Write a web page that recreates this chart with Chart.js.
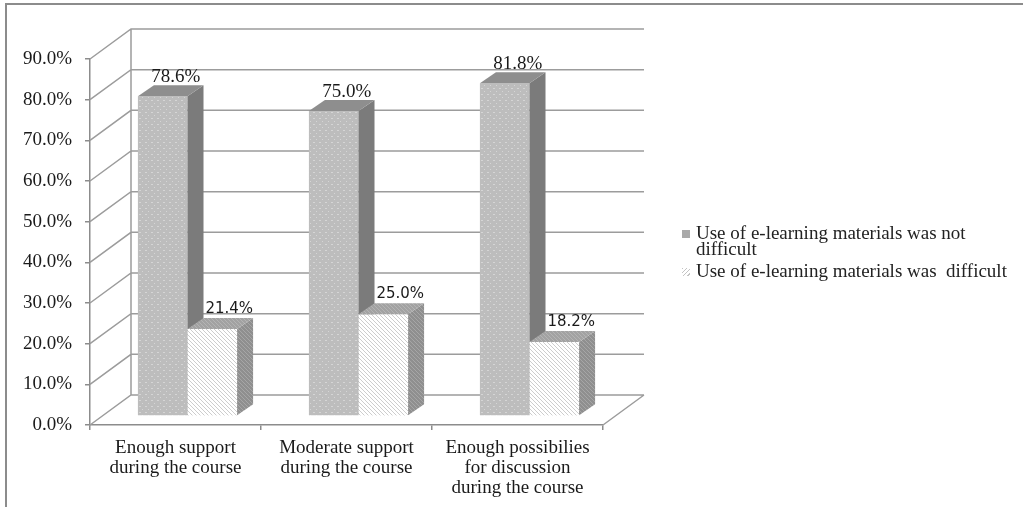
<!DOCTYPE html>
<html>
<head>
<meta charset="utf-8">
<script src="https://cdn.jsdelivr.net/npm/chart.js@4.4.0/dist/chart.umd.min.js"></script>
<style>
  body { margin: 0; background: #fff; }
  #wrap { position: relative; width: 1023px; height: 507px; overflow: hidden; }
  #frame { position: absolute; left: 5px; top: 3px; width: 1100px; height: 600px;
           border-left: 2px solid #8c8c8c; border-top: 2px solid #8c8c8c; }
  canvas { position: absolute; left: 0; top: 0; }
  #legend { position: absolute; left: 682px; top: 225px; font: 19px "Liberation Serif", serif; color: #222; }
  .item { display: flex; align-items: flex-start; line-height: 16px; margin-bottom: 6px; white-space: pre; }
  .sw { width: 8px; height: 8px; margin: 5px 6px 0 0; flex: none; }
</style>
</head>
<body>
<div id="wrap">
  <div id="frame"></div>
  <canvas id="chart" width="1023" height="507"></canvas>
  <div id="legend"></div>
</div>
<script>
const categories = [
  ["Enough support", "during the course"],
  ["Moderate support", "during the course"],
  ["Enough possibilies", "for discussion", "during the course"],
]
const seriesLabels = [
  "Use of e-learning materials was not\ndifficult",
  "Use of e-learning materials was  difficult",
]
const notDifficult = [78.6, 75.0, 81.8]
const difficult = [21.4, 25.0, 18.2]

// 3D offsets: back wall, bar plane shift, bar depth
const WALL = { x: 41, y: -30 }
const SHIFT = { x: 12, y: -9 }
const DEPTH = { x: 16, y: -11 }
const SERIF = "'Liberation Serif', 'Times New Roman', serif"

function tile(size, base, ink, draw) {
  const c = document.createElement("canvas")
  c.width = size; c.height = size
  const g = c.getContext("2d")
  g.fillStyle = base; g.fillRect(0, 0, size, size)
  g.fillStyle = ink
  draw(g)
  return g.createPattern(c, "repeat")
}
const diag = g => { for (let i = 0; i < 4; i++) g.fillRect(i, i, 1, 1) }
const dots = tile(6, "#bdbdbd", "#d5d5d5", g => { g.fillRect(1, 1, 2, 1); g.fillRect(4, 4, 1, 1) })
const hatch = tile(4, "#ffffff", "#cdcdcd", diag)
const hatchSide = tile(4, "#8f8f8f", "#a6a6a6", diag)
const hatchTop = tile(4, "#a2a2a2", "#b4b4b4", diag)

const FACES = [
  { side: "#7b7b7b", top: "#8e8e8e", font: "19px " + SERIF, dx: 13, dy: -8 },
  { side: hatchSide, top: hatchTop, font: "15px 'DejaVu Sans', sans-serif", dx: 17, dy: -9 },
]

function drawFaces(ctx, bar, face) {
  const { x, y, base, width } = bar.getProps(["x", "y", "base", "width"], true)
  const l = x - width / 2, r = x + width / 2
  ctx.fillStyle = face.side
  ctx.beginPath()
  ctx.moveTo(r, y); ctx.lineTo(r + DEPTH.x, y + DEPTH.y)
  ctx.lineTo(r + DEPTH.x, base + DEPTH.y); ctx.lineTo(r, base)
  ctx.closePath(); ctx.fill()
  ctx.fillStyle = face.top
  ctx.beginPath()
  ctx.moveTo(l, y); ctx.lineTo(l + DEPTH.x, y + DEPTH.y)
  ctx.lineTo(r + DEPTH.x, y + DEPTH.y); ctx.lineTo(r, y)
  ctx.closePath(); ctx.fill()
}

const box3d = {
  id: "box3d",
  beforeDatasetsDraw(chart) {
    const { ctx, chartArea: a, scales: { y } } = chart
    ctx.save()
    ctx.strokeStyle = "#9c9c9c"
    ctx.lineWidth = 1.5
    ctx.beginPath()
    y.ticks.forEach(t => {
      const py = y.getPixelForValue(t.value)
      ctx.moveTo(a.left, py)
      ctx.lineTo(a.left + WALL.x, py + WALL.y)
      ctx.lineTo(a.right + WALL.x, py + WALL.y)
    })
    ctx.moveTo(a.left + WALL.x, a.top + WALL.y)
    ctx.lineTo(a.left + WALL.x, a.bottom + WALL.y)
    ctx.moveTo(a.right, a.bottom)
    ctx.lineTo(a.right + WALL.x, a.bottom + WALL.y)
    ctx.stroke()
    ctx.restore()
    // bars sit halfway into the box
    ctx.save()
    ctx.translate(SHIFT.x, SHIFT.y)
  },
  afterDatasetsDraw(chart) {
    const { ctx } = chart
    const m0 = chart.getDatasetMeta(0)
    const m1 = chart.getDatasetMeta(1)
    m0.data.forEach((bar, i) => {
      drawFaces(ctx, bar, FACES[0])
      m1.data[i].draw(ctx)
      drawFaces(ctx, m1.data[i], FACES[1])
    })
    ctx.restore()

    ctx.save()
    ctx.fillStyle = "#1a1a1a"
    ctx.textAlign = "center"
    ctx.textBaseline = "middle"
    ;[m0, m1].forEach((meta, d) => {
      const f = FACES[d]
      ctx.font = f.font
      meta.data.forEach((bar, i) => {
        const v = chart.data.datasets[d].data[i]
        ctx.fillText(v.toFixed(1) + "%", bar.x + SHIFT.x + f.dx, bar.y + SHIFT.y + DEPTH.y + f.dy)
      })
    })
    ctx.restore()
  },
}

const chart = new Chart(document.getElementById("chart"), {
  type: "bar",
  data: {
    labels: categories,
    datasets: [
      { label: seriesLabels[0], data: notDifficult, backgroundColor: dots, clip: false },
      { label: seriesLabels[1], data: difficult, backgroundColor: hatch, clip: false },
    ],
  },
  options: {
    responsive: false,
    animation: false,
    layout: { padding: { top: 59, right: 420, bottom: 0, left: 0 } },
    datasets: { bar: { categoryPercentage: 0.58, barPercentage: 1.0 } },
    plugins: { legend: { display: false }, tooltip: { enabled: false } },
    scales: {
      x: {
        afterFit: s => { s.height = 82 },
        grid: { drawOnChartArea: false, tickLength: 5, color: "#8c8c8c", lineWidth: 1.5 },
        border: { color: "#8c8c8c", width: 1.5 },
        ticks: { color: "#1a1a1a", padding: 8, font: { family: SERIF, size: 19, lineHeight: 1.05 } },
      },
      y: {
        min: 0,
        max: 90,
        afterFit: s => { s.width = 90 },
        grid: { drawOnChartArea: false, tickLength: 5, color: "#8c8c8c", lineWidth: 1.5 },
        border: { color: "#8c8c8c", width: 1.5 },
        ticks: {
          stepSize: 10,
          padding: 13,
          color: "#1a1a1a",
          font: { family: SERIF, size: 19 },
          callback: v => v.toFixed(1) + "%",
        },
      },
    },
  },
  plugins: [box3d],
})

// legend built from the dataset labels
const legend = document.getElementById("legend")
const swatches = ["#a9a9a9", "repeating-linear-gradient(135deg,#c4c4c4 0 1px,#fff 1px 3px)"]
chart.data.datasets.forEach((ds, i) => {
  const item = document.createElement("div")
  item.className = "item"
  const sw = document.createElement("span")
  sw.className = "sw"
  sw.style.background = swatches[i]
  const txt = document.createElement("span")
  txt.textContent = ds.label
  item.append(sw, txt)
  legend.append(item)
})
</script>
</body>
</html>
